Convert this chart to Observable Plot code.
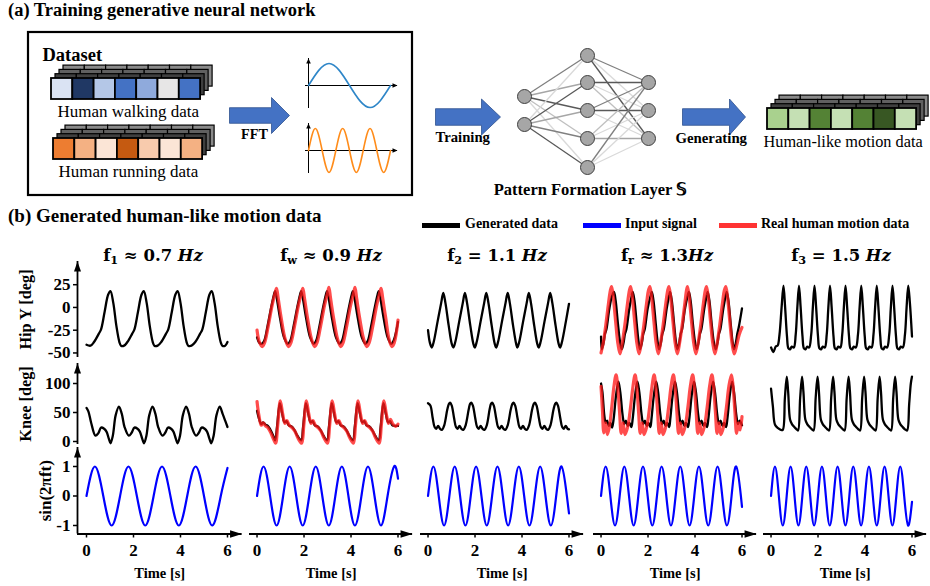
<!DOCTYPE html>
<html><head><meta charset="utf-8">
<script src="https://cdn.jsdelivr.net/npm/d3@7"></script>
<script src="https://cdn.jsdelivr.net/npm/@observablehq/plot@0.6"></script>
<style>
body{margin:0;background:#fff;}
#fig{position:relative;width:930px;height:586px;overflow:hidden;font-family:"Liberation Serif","Times New Roman",serif;}
.t{position:absolute;white-space:nowrap;line-height:1;color:#000;}
.t sub{font-size:0.68em;vertical-align:-0.28em;line-height:0;}
.sw{position:absolute;height:5px;width:38px;}
</style></head><body><div id="fig"></div>
<script>
// ---------------- DATA ----------------
const timeTicks = [0, 2, 4, 6];
const hipTicks = [-50, -25, 0, 25];
const kneeTicks = [0, 50, 100];
const sinTicks = [-1, 0, 1];
const rowLabels = {hip: "Hip Y [deg]", knee: "Knee [deg]", sin: "sin(2πft)"};
const colTitles = [
  'f<sub>1</sub> ≈ 0.7 <i>Hz</i>',
  'f<sub>w</sub> ≈ 0.9 <i>Hz</i>',
  'f<sub>2</sub> = 1.1 <i>Hz</i>',
  'f<sub>r</sub> ≈ 1.3<i>Hz</i>',
  'f<sub>3</sub> = 1.5 <i>Hz</i>'
];
const legendLabels = ["Generated data", "Input signal", "Real human motion data"];

const walkColors = ["#dae3f3", "#203864", "#b4c7e7", "#4472c4", "#8faadc", "#e7e6e6", "#4472c4"];
const runColors  = ["#ed7d31", "#f4b183", "#fbe5d6", "#c55a11", "#f8cbad", "#fbe5d6", "#f4b183"];
const genColors  = ["#a9d18e", "#c5e0b4", "#548235", "#c5e0b4", "#548235", "#385723", "#c5e0b4"];

const iconWalk = [[0,0],[0.25,1],[0.5,0],[0.75,-1],[1,0]];
const iconRun = [[0,0],[0.0833,1],[0.1667,0],[0.25,-1],[0.3333,0],[0.4167,1],[0.5,0],[0.5833,-1],[0.6667,0],[0.75,1],[0.8333,0],[0.9167,-1],[1,0]];

// [time s, value]
const hip07 = [[0,-41],[0.17,-42],[0.32,-38],[0.52,-29],[0.62,-24],[0.77,-5],[0.92,14],[1.02,18],[1.14,5],[1.27,-20],[1.4,-38],[1.47,-42],[1.6,-42],[1.74,-38],[1.94,-29],[2.04,-24],[2.19,-5],[2.34,14],[2.44,18],[2.56,5],[2.69,-20],[2.82,-38],[2.89,-42],[3.03,-42],[3.18,-38],[3.38,-29],[3.48,-24],[3.63,-5],[3.78,14],[3.88,18],[4.0,5],[4.13,-20],[4.26,-38],[4.33,-42],[4.47,-42],[4.63,-38],[4.83,-29],[4.93,-24],[5.08,-5],[5.23,14],[5.33,18],[5.45,5],[5.58,-20],[5.71,-38],[5.78,-42],[5.9,-42],[6.0,-38]];
const knee07 = [[0,58],[0.08,52],[0.2,32],[0.38,10],[0.5,14],[0.62,24],[0.75,22],[0.85,17],[0.95,5],[1.02,-3],[1.12,10],[1.24,45],[1.38,60],[1.5,48],[1.62,25],[1.8,10],[1.92,15],[2.04,24],[2.17,22],[2.27,17],[2.37,5],[2.45,-3],[2.55,10],[2.67,45],[2.81,60],[2.93,48],[3.05,25],[3.23,10],[3.35,15],[3.47,24],[3.6,22],[3.7,17],[3.8,5],[3.88,-3],[3.98,10],[4.1,45],[4.24,60],[4.36,48],[4.48,25],[4.66,10],[4.78,15],[4.9,24],[5.03,22],[5.13,17],[5.23,5],[5.31,-3],[5.41,10],[5.53,45],[5.67,60],[5.79,48],[5.91,35],[6.0,25]];
const sin07 = [[0,0],[0.357,1],[0.714,0],[1.071,-1],[1.429,0],[1.786,1],[2.143,0],[2.5,-1],[2.857,0],[3.214,1],[3.571,0],[3.929,-1],[4.286,0],[4.643,1],[5.0,0],[5.357,-1],[5.714,0],[6.0,0.95]];

const hipGen09 = [[0,-33],[0.1,-39],[0.2,-40],[0.3,-37],[0.45,-20],[0.6,0],[0.72,14],[0.77,18],[0.84,10],[0.98,-12],[1.15,-33],[1.31,-40],[1.41,-37],[1.56,-20],[1.71,0],[1.83,14],[1.88,18],[1.95,10],[2.09,-12],[2.26,-33],[2.41,-40],[2.51,-37],[2.66,-20],[2.81,0],[2.93,14],[2.98,18],[3.05,10],[3.19,-12],[3.36,-33],[3.51,-40],[3.61,-37],[3.76,-20],[3.91,0],[4.03,14],[4.08,18],[4.15,10],[4.29,-12],[4.46,-33],[4.61,-40],[4.71,-37],[4.86,-20],[5.01,0],[5.13,14],[5.18,18],[5.25,10],[5.39,-12],[5.56,-33],[5.71,-40],[5.82,-36],[6.0,-16]];
const hipReal09 = [[0,-25],[0.1,-38],[0.22,-43],[0.32,-39],[0.48,-20],[0.64,2],[0.77,16],[0.83,21],[0.9,10],[1.03,-12],[1.2,-35],[1.34,-43],[1.44,-39],[1.6,-20],[1.76,2],[1.89,16],[1.95,21],[2.02,10],[2.15,-12],[2.32,-35],[2.45,-43],[2.55,-39],[2.71,-20],[2.87,2],[3.0,16],[3.06,22],[3.13,10],[3.26,-12],[3.43,-35],[3.56,-43],[3.66,-39],[3.82,-20],[3.98,2],[4.11,16],[4.17,22],[4.24,10],[4.37,-12],[4.54,-35],[4.67,-43],[4.77,-39],[4.93,-20],[5.09,2],[5.22,16],[5.28,21],[5.35,10],[5.48,-12],[5.62,-35],[5.74,-43],[5.84,-39],[6.0,-14]];
const kneeGen09 = [[0,53],[0.08,40],[0.18,30],[0.26,33],[0.36,29],[0.46,27],[0.56,21],[0.68,11],[0.77,2],[0.85,25],[0.97,66],[1.07,48],[1.17,33],[1.25,35],[1.35,28],[1.47,26],[1.59,20],[1.72,10],[1.88,2],[1.96,25],[2.08,66],[2.18,48],[2.28,33],[2.36,35],[2.46,28],[2.58,26],[2.7,20],[2.83,10],[2.98,2],[3.06,25],[3.18,66],[3.28,48],[3.38,33],[3.46,35],[3.56,28],[3.68,26],[3.8,20],[3.93,10],[4.08,2],[4.16,25],[4.28,66],[4.38,48],[4.48,33],[4.56,35],[4.66,28],[4.78,26],[4.9,20],[5.03,10],[5.18,2],[5.26,25],[5.38,66],[5.48,48],[5.58,33],[5.66,35],[5.76,28],[5.88,27],[6.0,27]];
const kneeReal09 = [[0,69],[0.08,45],[0.18,28],[0.26,32],[0.36,27],[0.46,24],[0.56,17],[0.68,6],[0.79,-3],[0.88,28],[0.99,70],[1.09,48],[1.19,31],[1.27,36],[1.37,28],[1.49,24],[1.61,18],[1.74,6],[1.9,-3],[1.99,28],[2.1,70],[2.2,48],[2.3,31],[2.38,36],[2.48,28],[2.6,24],[2.72,18],[2.85,6],[3.0,-3],[3.09,28],[3.2,70],[3.3,48],[3.4,31],[3.48,36],[3.58,28],[3.7,24],[3.82,18],[3.95,6],[4.1,-3],[4.19,28],[4.3,70],[4.4,48],[4.5,31],[4.58,36],[4.68,28],[4.8,24],[4.92,18],[5.05,6],[5.2,-3],[5.29,28],[5.4,70],[5.5,48],[5.6,31],[5.68,38],[5.78,30],[5.9,26],[6.0,30]];
const sin09 = [[0,0],[0.278,1],[0.556,0],[0.833,-1],[1.111,0],[1.389,1],[1.667,0],[1.944,-1],[2.222,0],[2.5,1],[2.778,0],[3.056,-1],[3.333,0],[3.611,1],[3.889,0],[4.167,-1],[4.444,0],[4.722,1],[5.0,0],[5.278,-1],[5.556,0],[5.833,1],[6.0,0.59]];

const hip11 = [[0,-25],[0.08,-39],[0.16,-44],[0.24,-38],[0.41,-15],[0.56,5],[0.65,16],[0.74,5],[0.88,-20],[1.01,-40],[1.08,-44],[1.16,-38],[1.33,-15],[1.48,5],[1.57,16],[1.66,5],[1.8,-20],[1.93,-40],[1.99,-44],[2.07,-38],[2.24,-15],[2.39,5],[2.48,16],[2.57,5],[2.71,-20],[2.84,-40],[2.9,-44],[2.98,-38],[3.15,-15],[3.3,5],[3.39,16],[3.48,5],[3.62,-20],[3.75,-40],[3.8,-44],[3.88,-38],[4.05,-15],[4.2,5],[4.29,16],[4.38,5],[4.52,-20],[4.65,-40],[4.71,-44],[4.79,-38],[4.96,-15],[5.11,5],[5.2,16],[5.29,5],[5.43,-20],[5.56,-40],[5.62,-44],[5.7,-38],[5.87,-15],[6.0,4]];
const knee11 = [[0,66],[0.1,62],[0.2,40],[0.28,25],[0.35,22],[0.43,27],[0.51,22],[0.59,20],[0.69,28],[0.82,55],[0.89,65],[0.94,67],[1.01,62],[1.11,40],[1.19,25],[1.26,22],[1.34,27],[1.42,22],[1.5,20],[1.6,28],[1.73,55],[1.79,65],[1.84,67],[1.91,62],[2.01,40],[2.09,25],[2.16,22],[2.24,27],[2.32,22],[2.4,20],[2.5,28],[2.62,55],[2.68,65],[2.73,67],[2.8,62],[2.9,40],[2.98,25],[3.05,22],[3.13,27],[3.21,22],[3.29,20],[3.39,28],[3.52,55],[3.59,65],[3.64,67],[3.71,62],[3.81,40],[3.89,25],[3.96,22],[4.04,27],[4.12,22],[4.2,20],[4.3,28],[4.43,55],[4.5,65],[4.55,67],[4.62,62],[4.72,40],[4.8,25],[4.87,22],[4.95,27],[5.03,22],[5.11,20],[5.21,28],[5.34,55],[5.41,65],[5.46,67],[5.53,62],[5.63,40],[5.71,25],[5.78,22],[5.86,27],[5.94,22],[6.0,21]];
const sin11 = [[0,0],[0.227,1],[0.455,0],[0.682,-1],[0.909,0],[1.136,1],[1.364,0],[1.591,-1],[1.818,0],[2.045,1],[2.273,0],[2.5,-1],[2.727,0],[2.955,1],[3.182,0],[3.409,-1],[3.636,0],[3.864,1],[4.091,0],[4.318,-1],[4.545,0],[4.773,1],[5.0,0],[5.227,-1],[5.455,0],[5.682,1],[5.909,0],[6.0,-0.59]];

const hipGen13 = [[0,-32],[0.03,-46],[0.1,-40],[0.17,-29],[0.23,-24],[0.35,-2],[0.46,12],[0.55,17],[0.62,8],[0.72,-18],[0.81,-38],[0.88,-46],[0.95,-40],[1.02,-29],[1.08,-24],[1.2,-2],[1.3,12],[1.35,17],[1.42,8],[1.52,-18],[1.6,-38],[1.66,-46],[1.73,-40],[1.8,-29],[1.86,-24],[1.98,-2],[2.1,12],[2.16,17],[2.23,8],[2.33,-18],[2.41,-38],[2.47,-46],[2.54,-40],[2.61,-29],[2.67,-24],[2.79,-2],[2.89,12],[2.94,17],[3.01,8],[3.11,-18],[3.19,-38],[3.25,-46],[3.32,-40],[3.39,-29],[3.45,-24],[3.57,-2],[3.68,12],[3.74,17],[3.81,8],[3.91,-18],[4.0,-38],[4.07,-46],[4.14,-40],[4.21,-29],[4.27,-24],[4.39,-2],[4.49,12],[4.54,17],[4.61,8],[4.71,-18],[4.8,-38],[4.88,-46],[4.95,-40],[5.02,-29],[5.08,-24],[5.2,-2],[5.3,12],[5.35,17],[5.42,8],[5.52,-18],[5.6,-38],[5.66,-46],[5.73,-40],[5.8,-29],[5.86,-22],[6.0,-1]];
const hipReal13 = [[0,-50],[0.1,-38],[0.2,-20],[0.32,5],[0.4,19],[0.45,23],[0.52,12],[0.62,-15],[0.72,-40],[0.81,-51],[0.91,-38],[1.01,-20],[1.13,5],[1.21,19],[1.26,23],[1.33,12],[1.43,-15],[1.53,-40],[1.62,-51],[1.72,-38],[1.82,-20],[1.94,5],[2.02,19],[2.08,23],[2.15,12],[2.25,-15],[2.35,-40],[2.44,-51],[2.54,-38],[2.64,-20],[2.76,5],[2.84,19],[2.89,23],[2.96,12],[3.06,-15],[3.16,-40],[3.25,-51],[3.35,-38],[3.45,-20],[3.57,5],[3.64,19],[3.68,23],[3.75,12],[3.85,-15],[3.95,-40],[4.04,-51],[4.14,-38],[4.24,-20],[4.36,5],[4.44,19],[4.49,23],[4.56,12],[4.66,-15],[4.76,-40],[4.85,-51],[4.95,-38],[5.05,-20],[5.17,5],[5.25,19],[5.31,23],[5.38,12],[5.48,-15],[5.58,-40],[5.67,-51],[5.77,-42],[5.88,-30],[6.0,-22]];
const kneeGen13 = [[0,100],[0.06,85],[0.14,45],[0.2,32],[0.26,36],[0.33,27],[0.4,32],[0.47,24],[0.54,40],[0.64,80],[0.74,103],[0.82,85],[0.92,45],[0.99,30],[1.06,36],[1.14,27],[1.21,32],[1.29,25],[1.35,40],[1.45,80],[1.55,103],[1.63,85],[1.73,45],[1.8,30],[1.87,36],[1.95,27],[2.02,32],[2.1,25],[2.15,40],[2.25,80],[2.35,103],[2.43,85],[2.53,45],[2.6,30],[2.67,36],[2.75,27],[2.82,32],[2.9,25],[2.95,40],[3.05,80],[3.15,103],[3.23,85],[3.33,45],[3.4,30],[3.47,36],[3.55,27],[3.62,32],[3.7,25],[3.76,40],[3.86,80],[3.96,103],[4.04,85],[4.14,45],[4.21,30],[4.28,36],[4.36,27],[4.43,32],[4.51,25],[4.57,40],[4.67,80],[4.77,103],[4.85,85],[4.95,45],[5.02,30],[5.09,36],[5.17,27],[5.24,32],[5.32,25],[5.38,40],[5.48,80],[5.58,103],[5.66,85],[5.76,45],[5.83,30],[5.9,36],[6.0,28]];
const kneeReal13 = [[0,95],[0.06,55],[0.12,15],[0.2,32],[0.27,12],[0.36,26],[0.46,60],[0.55,95],[0.64,115],[0.71,95],[0.79,50],[0.86,14],[0.94,32],[1.02,12],[1.14,26],[1.26,60],[1.36,95],[1.45,115],[1.52,95],[1.6,50],[1.67,14],[1.75,32],[1.83,12],[1.95,26],[2.07,60],[2.17,95],[2.26,115],[2.33,95],[2.41,50],[2.48,14],[2.56,32],[2.64,12],[2.76,26],[2.88,60],[2.98,95],[3.08,115],[3.15,95],[3.23,50],[3.3,14],[3.38,32],[3.46,12],[3.58,26],[3.7,60],[3.8,95],[3.9,115],[3.97,95],[4.05,50],[4.12,14],[4.2,32],[4.28,12],[4.4,26],[4.52,60],[4.62,95],[4.72,115],[4.79,95],[4.87,50],[4.94,14],[5.02,32],[5.1,12],[5.22,26],[5.34,60],[5.44,95],[5.55,115],[5.62,95],[5.7,50],[5.77,14],[5.85,32],[5.92,20],[6.0,43]];
const sin13 = [[0,0],[0.198,1],[0.397,0],[0.595,-1],[0.794,0],[0.992,1],[1.19,0],[1.389,-1],[1.587,0],[1.786,1],[1.984,0],[2.183,-1],[2.381,0],[2.579,1],[2.778,0],[2.976,-1],[3.175,0],[3.373,1],[3.571,0],[3.77,-1],[3.968,0],[4.167,1],[4.365,0],[4.563,-1],[4.762,0],[4.96,1],[5.159,0],[5.357,-1],[5.556,0],[5.754,1],[5.952,0],[6.0,-0.37]];

const hip15 = [[0,-44],[0.1,-49],[0.2,-43],[0.28,-42],[0.36,-30],[0.45,0],[0.53,24],[0.6,0],[0.68,-32],[0.74,-45],[0.81,-46],[0.88,-43],[0.97,-44],[1.05,-30],[1.12,0],[1.19,24],[1.26,0],[1.34,-32],[1.4,-45],[1.47,-46],[1.54,-43],[1.62,-44],[1.71,-30],[1.78,0],[1.85,24],[1.92,0],[2.0,-32],[2.06,-45],[2.13,-46],[2.2,-43],[2.29,-44],[2.37,-30],[2.44,0],[2.51,24],[2.58,0],[2.66,-32],[2.72,-45],[2.79,-46],[2.86,-43],[2.95,-44],[3.03,-30],[3.1,0],[3.17,24],[3.24,0],[3.32,-32],[3.38,-45],[3.45,-46],[3.52,-43],[3.61,-44],[3.7,-30],[3.77,0],[3.84,24],[3.91,0],[3.99,-32],[4.05,-45],[4.12,-46],[4.19,-43],[4.28,-44],[4.36,-30],[4.43,0],[4.5,24],[4.57,0],[4.65,-32],[4.71,-45],[4.78,-46],[4.85,-43],[4.94,-44],[5.03,-30],[5.1,0],[5.17,24],[5.24,0],[5.32,-32],[5.38,-45],[5.45,-46],[5.52,-43],[5.61,-44],[5.7,-30],[5.77,0],[5.84,24],[5.91,5],[6.0,-32]];
const knee15 = [[0,91],[0.08,60],[0.17,29],[0.3,23],[0.42,20],[0.5,20],[0.59,75],[0.67,112],[0.73,85],[0.81,38],[0.89,30],[0.99,25],[1.09,21],[1.15,19],[1.24,75],[1.32,112],[1.38,85],[1.46,38],[1.54,30],[1.64,25],[1.74,21],[1.81,19],[1.9,75],[1.98,112],[2.04,85],[2.12,38],[2.2,30],[2.3,25],[2.4,21],[2.47,19],[2.56,75],[2.64,112],[2.7,85],[2.78,38],[2.86,30],[2.96,25],[3.06,21],[3.13,19],[3.22,75],[3.3,112],[3.36,85],[3.44,38],[3.52,30],[3.62,25],[3.72,21],[3.79,19],[3.88,75],[3.96,112],[4.02,85],[4.1,38],[4.18,30],[4.28,25],[4.38,21],[4.45,19],[4.54,75],[4.62,112],[4.68,85],[4.76,38],[4.84,30],[4.94,25],[5.04,21],[5.11,19],[5.2,75],[5.28,112],[5.34,85],[5.42,38],[5.5,30],[5.6,25],[5.7,21],[5.79,19],[5.88,65],[5.95,100],[6.0,112]];
const sin15 = [[0,0],[0.167,1],[0.333,0],[0.5,-1],[0.667,0],[0.833,1],[1.0,0],[1.167,-1],[1.333,0],[1.5,1],[1.667,0],[1.833,-1],[2.0,0],[2.167,1],[2.333,0],[2.5,-1],[2.667,0],[2.833,1],[3.0,0],[3.167,-1],[3.333,0],[3.5,1],[3.667,0],[3.833,-1],[4.0,0],[4.167,1],[4.333,0],[4.5,-1],[4.667,0],[4.833,1],[5.0,0],[5.167,-1],[5.333,0],[5.5,1],[5.667,0],[5.833,-1],[6.0,-0.2]];

// ---------------- STYLE / LAYOUT ----------------
const BLACK = "#000000", BLUE = "#0000ff", RED = "#ff1a1a";
const SERIF = '"Liberation Serif","Times New Roman",serif';
const fig = document.getElementById("fig");

function place(el, left, top) {
  el.style.position = "absolute";
  el.style.left = left + "px";
  el.style.top = top + "px";
  el.style.background = "transparent";
  el.style.maxWidth = "none";
  fig.appendChild(el);
}
function htmlText(html, x, baseline, size, opt = {}) {
  const lh = opt.lh || 1;
  const d = document.createElement("div");
  d.className = "t";
  d.innerHTML = html;
  d.style.fontSize = size + "px";
  d.style.lineHeight = lh;
  d.style.fontWeight = opt.weight || "bold";
  d.style.fontFamily = opt.family || SERIF;
  d.style.left = x + "px";
  d.style.top = (baseline - ((lh - 1.107) / 2 + 0.891) * size) + "px";
  if (opt.anchor === "middle") d.style.transform = "translateX(-50%)";
  fig.appendChild(d);
}
function headSym(dir, len, hw) {
  return {draw(ctx) {
    ctx.moveTo(0, 0);
    if (dir === "right") { ctx.lineTo(-len, -hw); ctx.lineTo(-len, hw); }
    else { ctx.lineTo(-hw, len); ctx.lineTo(hw, len); }
    ctx.closePath();
  }};
}
function blockArrowSym(L, hl, sh, hh) {
  return {draw(ctx) {
    ctx.moveTo(-L, -sh); ctx.lineTo(-hl, -sh); ctx.lineTo(-hl, -hh); ctx.lineTo(0, 0);
    ctx.lineTo(-hl, hh); ctx.lineTo(-hl, sh); ctx.lineTo(-L, sh); ctx.closePath();
  }};
}
const px = d => d[0], py = d => d[1];

// ---------------- PART (a) DIAGRAM ----------------
const cellW = 21.3, cellH = 21, layerDx = 4, layerDy = -4.3;
const stacks = [
  {x: 51, y: 78, colors: walkColors},
  {x: 53, y: 138, colors: runColors},
  {x: 767, y: 108, colors: genColors}
];
const backFills = ["#8a8a8a", "#606060", "#3f3f3f"];
const backCells = [], frontCells = [];
for (const s of stacks) {
  for (let L = 3; L >= 1; L--) {
    s.colors.forEach((c, i) => backCells.push({
      x1: s.x + i * cellW + L * layerDx, x2: s.x + (i + 1) * cellW + L * layerDx,
      y1: s.y + L * layerDy, y2: s.y + cellH + L * layerDy, fill: backFills[3 - L]}));
  }
  s.colors.forEach((c, i) => frontCells.push({
    x1: s.x + i * cellW, x2: s.x + (i + 1) * cellW, y1: s.y, y2: s.y + cellH, fill: c}));
}
const nnInput = [[524, 96], [524, 124]];
const nnHidden = [[587, 55], [587, 82], [587, 110], [587, 138], [587, 167]];
const nnOutput = [[648, 82], [648, 110], [648, 138]];
const shadesIH = [["#7f7f7f","#a6a6a6","#595959","#bfbfbf","#d9d9d9"],["#d9d9d9","#595959","#a6a6a6","#808080","#595959"]];
const shadesHO = [["#808080","#d9d9d9","#595959"],["#595959","#d9d9d9","#bfbfbf"],["#808080","#595959","#d9d9d9"],["#bfbfbf","#d9d9d9","#a6a6a6"],["#808080","#d9d9d9","#d9d9d9"]];
const edges = [];
nnInput.forEach((a, i) => nnHidden.forEach((b, j) => edges.push({a, b, c: shadesIH[i][j]})));
nnHidden.forEach((a, i) => nnOutput.forEach((b, j) => edges.push({a, b, c: shadesHO[i][j]})));
const blockArrows = [
  {tip: [289, 115], sym: blockArrowSym(60, 18, 7.8, 18)},
  {tip: [500, 116.5], sym: blockArrowSym(65, 19, 8.3, 18)},
  {tip: [745, 116.5], sym: blockArrowSym(63, 16, 8.3, 18)}
];
const diagTexts = [
  {t: "Dataset", x: 42, y: 60.7, s: 18.5, w: "bold", a: "start"},
  {t: "Human walking data", x: 57, y: 116.7, s: 17, w: "normal", a: "start"},
  {t: "Human running data", x: 58, y: 176.7, s: 17, w: "normal", a: "start"},
  {t: "FFT", x: 254, y: 138.3, s: 14.2, w: "bold", a: "middle"},
  {t: "Training", x: 435, y: 141, s: 14.7, w: "bold", a: "start"},
  {t: "Generating", x: 675, y: 142.5, s: 14.8, w: "bold", a: "start"},
  {t: "Pattern Formation Layer 𝕊", x: 590, y: 194, s: 16.5, w: "bold", a: "middle"},
  {t: "Human-like motion data", x: 763, y: 146.7, s: 16.3, w: "normal", a: "start"}
];
const diagMarks = [
  Plot.rect([0], {x1: 28, x2: 412, y1: 32, y2: 195, fill: "none", stroke: "#000", strokeWidth: 2.2}),
  Plot.rect(backCells, {x1: "x1", x2: "x2", y1: "y1", y2: "y2", fill: "fill", stroke: "#000", strokeWidth: 1.2}),
  Plot.rect(frontCells, {x1: "x1", x2: "x2", y1: "y1", y2: "y2", fill: "fill", stroke: "#000", strokeWidth: 1.8}),
  ...blockArrows.map(b => Plot.dot([b.tip], {x: px, y: py, symbol: b.sym, fill: "#4472c4", stroke: "#2f528f", strokeWidth: 0.8})),
  Plot.link(edges, {x1: d => d.a[0], y1: d => d.a[1], x2: d => d.b[0], y2: d => d.b[1], stroke: "c", strokeWidth: 1.3}),
  Plot.dot([...nnInput, ...nnHidden, ...nnOutput], {x: px, y: py, r: 7, fill: "#a6a6a6", stroke: "#404040", strokeWidth: 1}),
  ...diagTexts.map(d => Plot.text([d], {x: "x", y: "y", text: "t", fontSize: d.s, fontWeight: d.w, textAnchor: d.a, lineAnchor: "bottom", fontFamily: SERIF, fill: "#000"}))
];
const diagram = Plot.plot({
  width: 930, height: 200, margin: 0,
  x: {domain: [0, 930], range: [0, 930], axis: null},
  y: {domain: [0, 200], range: [0, 200], axis: null},
  color: {type: "identity"},
  style: {fontFamily: SERIF},
  marks: diagMarks
});
place(diagram, 0, 0);

function icon(data, color) {
  return Plot.plot({
    width: 100, height: 66, marginLeft: 5, marginRight: 3, marginTop: 8, marginBottom: 8,
    x: {domain: [-0.0366, 1.085], axis: null},
    y: {domain: [-1.045, 1.227], axis: null},
    marks: [
      Plot.ruleY([0], {stroke: "#000", strokeWidth: 1}),
      Plot.ruleX([0], {stroke: "#000", strokeWidth: 1}),
      Plot.dot([[1.085, 0]], {x: px, y: py, symbol: headSym("right", 5, 2.3), fill: "#000", stroke: "none"}),
      Plot.dot([[0, 1.227]], {x: px, y: py, symbol: headSym("up", 5, 2.3), fill: "#000", stroke: "none"}),
      Plot.line(data, {x: px, y: py, stroke: color, strokeWidth: 1.6, curve: "natural"})
    ]
  });
}
place(icon(iconWalk, "#2e86c8"), 300, 50);
place(icon(iconRun, "#ff8c1a"), 300, 115);

// ---------------- PART (b) ----------------
htmlText("(a) Training generative neural network", 8, 16.5, 18.5, {lh: 1.107});
htmlText("(b) Generated human-like motion data", 8, 222, 19);

const legendColors = [BLACK, BLUE, "#ff3333"];
const swX = [422, 583, 719], lgX = [465, 625, 761];
legendLabels.forEach((l, i) => {
  const s = document.createElement("div");
  s.className = "sw"; s.style.left = swX[i] + "px"; s.style.top = "222.5px"; s.style.background = legendColors[i];
  fig.appendChild(s);
  htmlText(l, lgX[i], 229, 14);
});
const colCenters = [153, 331, 497, 667, 841];
colTitles.forEach((t, i) => htmlText(t, colCenters[i], 262, 16.5, {anchor: "middle", family: '"DejaVu Serif",serif'}));

const PXS = 23.5, XMAX = 6.62;
const colX0 = [86, 257, 428, 601, 771];
const rowSpec = {
  hip:  {top: 261,   vmin: -55,    vmax: 50.5,  ppu: 0.91, ticks: hipTicks,  labelX: 25, labelSize: 16.3},
  knee: {top: 362.5, vmin: -5.2,   vmax: 134.5, ppu: 0.58, ticks: kneeTicks, labelX: 25, labelSize: 16.3},
  sin:  {top: 446.5, vmin: -1.288, vmax: 1.644, ppu: 29.5, ticks: sinTicks,  labelX: 45, labelSize: 17}
};
function panel(ci, rk, series) {
  const r = rowSpec[rk];
  const isLeft = ci === 0, isBottom = rk === "sin";
  const xmin = isLeft ? -0.383 : -0.32;
  const mL = isLeft ? 77 : 2, mR = 3, mT = 0, mB = isBottom ? 53 : 0;
  const w = mL + (XMAX - xmin) * PXS + mR;
  const h = mT + (r.vmax - r.vmin) * r.ppu + mB;
  const marks = [];
  if (isLeft) {
    marks.push(Plot.ruleX([xmin], {stroke: "#000", strokeWidth: 1.8}));
    marks.push(Plot.dot([[xmin, r.vmax]], {x: px, y: py, symbol: headSym("up", 10, 3.5), fill: "#000", stroke: "none"}));
    marks.push(Plot.axisY({ticks: r.ticks, tickSize: 4, tickPadding: 3, tickFormat: d => String(d), label: null, fontSize: 17, fontWeight: "bold", fontFamily: SERIF, strokeWidth: 1.5}));
    marks.push(Plot.text([rowLabels[rk]], {text: d => d, frameAnchor: "left", dx: r.labelX - mL, rotate: -90, fontSize: r.labelSize, fontWeight: "bold", fontFamily: SERIF, textAnchor: "middle", lineAnchor: "middle"}));
  }
  if (isBottom) {
    marks.push(Plot.ruleY([r.vmin], {stroke: "#000", strokeWidth: 1.8}));
    marks.push(Plot.dot([[XMAX, r.vmin]], {x: px, y: py, symbol: headSym("right", 12, 3.8), fill: "#000", stroke: "none"}));
    marks.push(Plot.axisX({ticks: timeTicks, tickSize: 4, tickPadding: 6, tickFormat: d => String(d), label: null, fontSize: 17, fontWeight: "bold", fontFamily: SERIF, strokeWidth: 1.5}));
    marks.push(Plot.text(["Time [s]"], {text: d => d, frameAnchor: "bottom", dy: 44, lineAnchor: "bottom", fontSize: 14.5, fontWeight: "bold", fontFamily: SERIF}));
  }
  for (const s of series) {
    marks.push(Plot.line(s.data, {x: px, y: py, stroke: s.color, strokeWidth: s.w, strokeOpacity: s.op || 1,
      curve: s.curve || "catmull-rom", strokeLinejoin: "round", strokeLinecap: "round"}));
  }
  const el = Plot.plot({
    width: w, height: h, marginLeft: mL, marginRight: mR, marginTop: mT, marginBottom: mB,
    x: {domain: [xmin, XMAX], axis: null},
    y: {domain: [r.vmin, r.vmax], axis: null},
    style: {fontFamily: SERIF, fontWeight: "bold", fontSize: "16px", overflow: "visible", color: "#000"},
    marks
  });
  place(el, colX0[ci] + xmin * PXS - mL, r.top - mT);
}
const gen = d => ({data: d, color: BLACK, w: 2.3});
const real = d => ({data: d, color: RED, w: 3.2, op: 0.78});
const inp = d => ({data: d, color: BLUE, w: 2.2, curve: "natural"});

panel(0, "hip", [gen(hip07)]);
panel(0, "knee", [gen(knee07)]);
panel(0, "sin", [inp(sin07)]);
panel(1, "hip", [gen(hipGen09), real(hipReal09)]);
panel(1, "knee", [gen(kneeGen09), real(kneeReal09)]);
panel(1, "sin", [inp(sin09)]);
panel(2, "hip", [gen(hip11)]);
panel(2, "knee", [gen(knee11)]);
panel(2, "sin", [inp(sin11)]);
panel(3, "hip", [gen(hipGen13), real(hipReal13)]);
panel(3, "knee", [gen(kneeGen13), real(kneeReal13)]);
panel(3, "sin", [inp(sin13)]);
panel(4, "hip", [gen(hip15)]);
panel(4, "knee", [gen(knee15)]);
panel(4, "sin", [inp(sin15)]);
</script></body></html>
